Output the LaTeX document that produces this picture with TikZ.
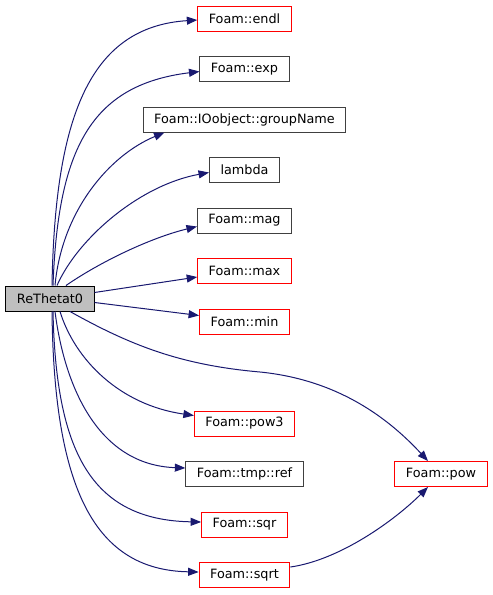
\documentclass[tikz,border=0pt]{standalone}
\usepackage{fontspec}
\setmainfont{DejaVu Sans}
\usepackage{xcolor}
\usetikzlibrary{arrows.meta}
\usetikzlibrary{positioning}

\definecolor{edgeblue}{HTML}{191970}
\definecolor{boxgray}{HTML}{404040}
\definecolor{rootfill}{HTML}{BFBFBF}

\tikzset{
    fnode/.style={draw=boxgray, fill=white, line width=1pt, inner xsep=11pt, inner ysep=0pt,
        minimum height=25pt, font=\fontsize{12.8}{15}\selectfont},
    trunc/.style={fnode, draw=red},
    rootnode/.style={fnode, draw=black, fill=rootfill},
    call/.style={draw=edgeblue, line width=1pt, -{Triangle[length=10.5pt,width=8pt]}, fill=none},
}

\begin{document}
\begin{tikzpicture}[x=1pt, y=-1pt, node distance=50.5pt, on grid]
    \useasboundingbox (0,0) rectangle (493,595);
    % caller
    \node [rootnode] (root) at (50,298.5) {ReThetat0};
    % callees, one column
    \node [trunc] (endl) at (244.5,18.5) {Foam::endl};
    \node [fnode, below=of endl] (exp) {Foam::exp};
    \node [fnode, below=of exp] (group) {Foam::IOobject::groupName};
    \node [fnode, below=of group] (lambda) {lambda};
    \node [fnode, below=of lambda] (mag) {Foam::mag};
    \node [trunc, below=of mag] (max) {Foam::max};
    \node [trunc, below=of max] (min) {Foam::min};
    \node [trunc, below=102pt of min] (pow3) {Foam::pow3};
    \node [fnode, below=of pow3] (tmpref) {Foam::tmp::ref};
    \node [trunc, below=of tmpref] (sqr) {Foam::sqr};
    \node [trunc, below=of sqr] (sqrt) {Foam::sqrt};
    \node [trunc, right=196.5pt of tmpref] (pow) {Foam::pow};

    % calls
    \draw [call] ([xshift=2pt]root.north) .. controls (55,120) and (88,27) .. ([yshift=-1.5pt]endl.west);
    \draw [call] ([xshift=3pt]root.north) .. controls (58,150) and (90,85) .. ([yshift=-2.5pt]exp.west);
    \draw [call] ([xshift=5pt]root.north) .. controls (62,210) and (110,155) .. ([xshift=-80pt]group.south);
    \draw [call] ([xshift=7pt]root.north) .. controls (78,238) and (140,185) .. ([yshift=-2.5pt]lambda.west);
    \draw [call] ([xshift=16pt]root.north) .. controls (100,262) and (150,238) .. ([yshift=-6pt]mag.west);
    \draw [call] ([yshift=6pt]root.east) -- ([yshift=-6pt]max.west);
    \draw [call] ([yshift=-4pt]root.east) -- ([yshift=6pt]min.west);
    \draw [call] ([xshift=20pt]root.south) .. controls (130,345) and (180,365) .. (260,372)
        .. controls (340,380) and (390,420) .. ([xshift=-13pt]pow.north);
    \draw [call] ([xshift=10pt]root.south) .. controls (75,360) and (120,405) .. ([yshift=8pt]pow3.west);
    \draw [call] ([xshift=5pt]root.south) .. controls (65,390) and (100,465) .. ([yshift=6pt]tmpref.west);
    \draw [call] ([xshift=3pt]root.south) .. controls (56,450) and (90,520) .. ([yshift=2.5pt]sqr.west);
    \draw [call] ([xshift=2pt]root.south) .. controls (54,490) and (95,570) .. ([yshift=3pt]sqrt.west);
    \draw [call] ([yshift=8pt]sqrt.east) .. controls (340,560) and (395,520) .. ([xshift=-13pt]pow.south);
\end{tikzpicture}
\end{document}
